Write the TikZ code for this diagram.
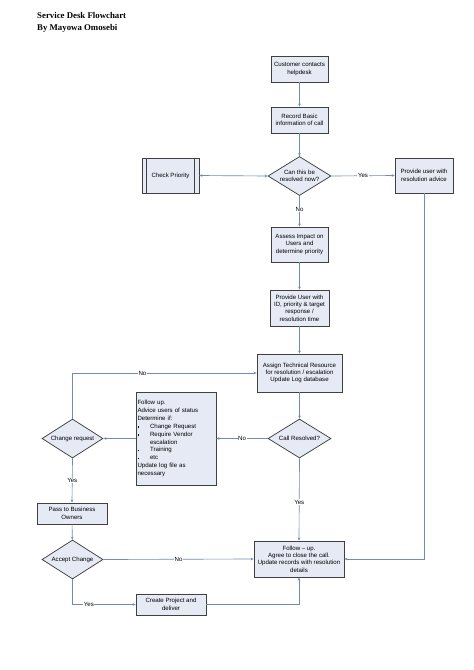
\documentclass[tikz,border=0pt]{standalone}
\usepackage{fontspec}
\setmainfont{Liberation Sans}
\newfontfamily\titlefont{Liberation Serif}
\usetikzlibrary{shapes.geometric,arrows.meta}
\definecolor{boxfill}{HTML}{E6EAF5}
\definecolor{boxline}{HTML}{404040}
\definecolor{conn}{HTML}{6F8CB4}
\tikzset{
  pbox/.style={draw=boxline, fill=boxfill, line width=0.75pt, align=center,
    font=\fontsize{6.1}{7.4}\selectfont, inner sep=1pt},
  dbox/.style={diamond, draw=boxline, fill=boxfill, line width=0.75pt, align=center,
    font=\fontsize{6.1}{7.4}\selectfont, inner sep=0pt, aspect=1.6},
  conn/.style={draw=conn, line width=0.65pt, -{Stealth[length=3pt,width=2.6pt]}},
  lbl/.style={fill=white, inner sep=0.6pt, font=\fontsize{6.1}{7.4}\selectfont}
}
\begin{document}
\begin{tikzpicture}[x=1pt,y=-1pt]
\useasboundingbox (0,0) rectangle (474,670);
\fill[white] (0,0) rectangle (474,670);
% title
\node[anchor=base west, align=left, inner sep=0pt, font=\titlefont\bfseries\fontsize{8.8}{12}\selectfont] (title) at (37,30)
  {Service Desk Flowchart\\By Mayowa Omosebi};
% nodes
\node[pbox, minimum width=57pt, minimum height=26pt] (cust) at (299.5,69) {Customer contacts\\helpdesk};
\node[pbox, minimum width=57pt, minimum height=26pt] (rec) at (299.5,120) {Record Basic\\information of call};
\node[dbox, minimum width=63pt, minimum height=39pt] (can) at (299.5,176) {Can this be\\resolved now?};
\node[pbox, minimum width=57pt, minimum height=35pt] (chk) at (170.5,175.5) {Check Priority};
\draw[boxline, line width=0.75pt] ([xshift=5pt]chk.north west) -- ([xshift=5pt]chk.south west)
  ([xshift=-5pt]chk.north east) -- ([xshift=-5pt]chk.south east);
\node[pbox, minimum width=58pt, minimum height=35pt] (adv) at (424,175.5) {Provide user with\\resolution advice};
\node[pbox, minimum width=57pt, minimum height=35pt] (ass) at (299.5,244.5) {Assess Impact on\\Users and\\determine priority};
\node[pbox, minimum width=59pt, minimum height=36pt] (pid) at (299.5,308) {Provide User with\\ID, priority \& target\\response /\\resolution time};
\node[pbox, minimum width=85pt, minimum height=38pt] (asg) at (299.5,373) {Assign Technical Resource\\for resolution / escalation\\Update Log database};
\node[dbox, minimum width=63pt, minimum height=39pt] (res) at (299.5,438.5) {Call Resolved?};
\node[pbox, minimum width=80pt, minimum height=93pt, align=left, text width=77pt,
  font=\fontsize{6.1}{7.9}\selectfont] (fol) at (176,438.5)
  {Follow up.\\Advice users of status\\Determine if:\\
   \makebox[12.5pt][l]{\rule[0.6pt]{1.4pt}{1.4pt}}Change Request\\
   \makebox[12.5pt][l]{\rule[0.6pt]{1.4pt}{1.4pt}}Require Vendor\\
   \hspace*{12.5pt}escalation\\
   \makebox[12.5pt][l]{\rule[0.6pt]{1.4pt}{1.4pt}}Training\\
   \makebox[12.5pt][l]{\rule[0.6pt]{1.4pt}{1.4pt}}etc\\
   Update log file as\\necessary};
\node[dbox, minimum width=61pt, minimum height=39pt] (chg) at (72.5,438.5) {Change request};
\node[pbox, minimum width=70pt, minimum height=21pt] (pas) at (72,513.5) {Pass to Business\\Owners};
\node[dbox, minimum width=61pt, minimum height=39pt] (acc) at (72.5,559.5) {Accept Change};
\node[pbox, minimum width=90pt, minimum height=36pt] (fin) at (299,559) {Follow -- up.\\Agree to close the call.\\Update records with resolution\\details};
\node[pbox, minimum width=70pt, minimum height=21pt] (cre) at (171,604.5) {Create Project and\\deliver};
% connectors
\draw[conn] (cust) -- (rec);
\draw[conn] (rec) -- (can);
\draw[conn, {Stealth[length=3pt,width=2.6pt]}-{Stealth[length=3pt,width=2.6pt]}] (chk.east) -- (can.west);
\draw[conn] (can.east) -- node[lbl, pos=0.5] {Yes} (adv.west);
\draw[conn] (can.south) -- node[lbl, pos=0.45] {No} (ass.north);
\draw[conn] (ass) -- (pid);
\draw[conn] (pid) -- (asg);
\draw[conn] (asg) -- (res);
\draw[conn] (res.west) -- node[lbl, pos=0.5] {No} (fol.east);
\draw[conn] (fol.west) -- (chg.east);
\draw[conn] (chg.north) |- node[lbl, pos=0.69] {No} (asg.west);
\draw[conn] (chg.south) -- node[lbl, pos=0.5] {Yes} (pas.north);
\draw[conn] (pas) -- (acc);
\draw[conn] (acc.east) -- node[lbl, pos=0.5] {No} (fin.west);
\draw[conn] (res.south) -- node[lbl, pos=0.53] {Yes} (fin.north);
\draw[conn] (adv.south) |- (fin.east);
\draw[conn] (acc.south) |- node[lbl, pos=0.63] {Yes} (cre.west);
\draw[conn] (cre.east) -| (fin.south);
\end{tikzpicture}
\end{document}
